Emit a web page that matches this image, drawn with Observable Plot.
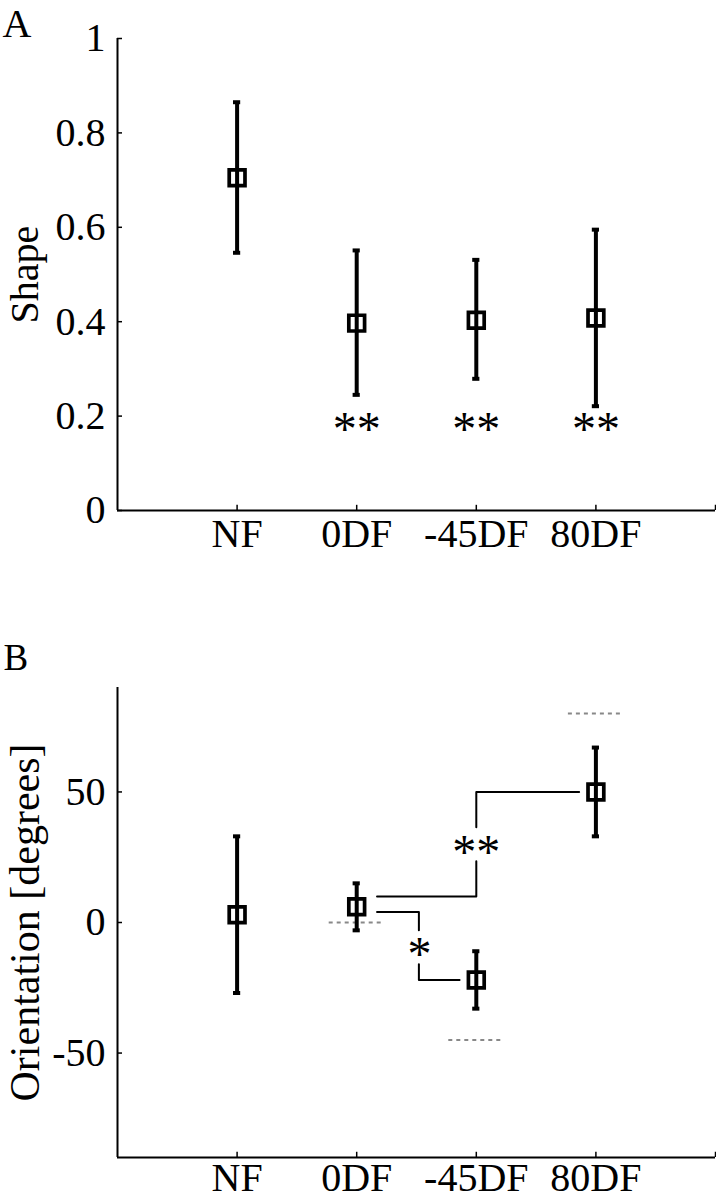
<!DOCTYPE html>
<html>
<head>
<meta charset="utf-8">
<script src="https://cdn.jsdelivr.net/npm/d3@7"></script>
<script src="https://cdn.jsdelivr.net/npm/@observablehq/plot@0.6"></script>
<style>
  html, body { margin: 0; padding: 0; background: #fff; }
  #chart svg { display: block; }
</style>
</head>
<body>
<div id="chart"></div>
<script>
// ---- data ----
const cats = ["NF", "0DF", "-45DF", "80DF"];
const catPos = [1, 2, 3, 4];
const xTickMarks = [1, 2, 3, 4, 5];

const shapeMean = [0.705, 0.397, 0.403, 0.408];
const shapeLo   = [0.546, 0.245, 0.279, 0.221];
const shapeHi   = [0.865, 0.551, 0.531, 0.595];
const shapeSig  = ["", "**", "**", "**"];
const shapeSigY = 0.186;
const shapeTicks = [0, 0.2, 0.4, 0.6, 0.8, 1];

const orientMean = [3, 6, -22, 50];
const orientLo   = [-27, -3, -33, 33];
const orientHi   = [33, 15, -11, 67];
const orientTicks = [-50, 0, 50];

const targetPos = [2, 3, 4];
const targetVal = [0, -45, 80];

// significance brackets (x in category units, y in degrees)
const bracketSeg = ["a", "a", "a", "b", "b", "b", "c", "c", "c", "d", "d", "d"];
const bracketX   = [2.17, 3, 3,   3, 3, 3.86,   2.17, 2.52, 2.52,   2.52, 2.52, 2.86];
const bracketY   = [10, 10, 23.5, 36.5, 50, 50,  4, 4, -3,           -16, -22, -22];
const sigLabels  = ["**", "*"];
const sigX       = [3, 2.525];
const sigY       = [29.6, -9.6];

// ---- tables ----
const shapeData = catPos.map((x, i) => ({x, mean: shapeMean[i], lo: shapeLo[i], hi: shapeHi[i], sig: shapeSig[i]}));
const orientData = catPos.map((x, i) => ({x, mean: orientMean[i], lo: orientLo[i], hi: orientHi[i]}));
const targets = targetPos.map((x, i) => ({x, v: targetVal[i]}));
const brackets = bracketX.map((x, i) => ({x, y: bracketY[i], seg: bracketSeg[i]}));
const sigs = sigLabels.map((t, i) => ({t, x: sigX[i], y: sigY[i]}));

const FONT = "'Liberation Serif', 'Times New Roman', Times, serif";
const capW = 0.03;
const W = 716;

function errorMarks(data) {
  return [
    Plot.ruleX(data, {x: "x", y1: "lo", y2: "hi", stroke: "black", strokeWidth: 4}),
    Plot.ruleY(data, {x1: d => d.x - capW, x2: d => d.x + capW, y: "hi", stroke: "black", strokeWidth: 4}),
    Plot.ruleY(data, {x1: d => d.x - capW, x2: d => d.x + capW, y: "lo", stroke: "black", strokeWidth: 4}),
    Plot.dot(data, {x: "x", y: "mean", symbol: "square", r: 8.9, stroke: "black", strokeWidth: 3.7, fill: "none"})
  ];
}

function axisMarks(yTicks, yMin, yMax, yTickLen, xPad) {
  return [
    Plot.ruleX([0], {y1: yMin, y2: yMax, stroke: "black", strokeWidth: 2}),
    Plot.ruleY([yMin], {x1: 0, x2: 5, stroke: "black", strokeWidth: 2}),
    Plot.ruleY(yTicks, {y: d => d, x1: 0, x2: 0.042, stroke: "black", strokeWidth: 1.5}),
    Plot.ruleX(xTickMarks, {x: d => d, y1: yMin, y2: yMin + yTickLen, stroke: "black", strokeWidth: 1.5}),
    Plot.axisY({ticks: yTicks, tickSize: 0, tickPadding: 12, tickFormat: d => String(d), fontSize: 40, label: null}),
    Plot.axisX({ticks: catPos, tickSize: 0, tickPadding: xPad, tickFormat: d => cats[d - 1], fontSize: 40, label: null})
  ];
}

const plotA = Plot.plot({
  width: W, height: 600,
  marginLeft: 117, marginRight: 1, marginTop: 38, marginBottom: 90,
  style: {fontFamily: FONT, fontSize: "40px", color: "black", background: "white"},
  x: {domain: [0, 5]},
  y: {domain: [0, 1]},
  marks: [
    ...axisMarks(shapeTicks, 0, 1, 0.011, 8),
    ...errorMarks(shapeData),
    Plot.text(shapeData, {x: "x", y: () => shapeSigY, text: "sig", fontSize: 48, lineAnchor: "middle", dy: 7}),
    Plot.text(["Shape"], {frameAnchor: "left", rotate: -90, dx: -80, textAnchor: "middle", lineAnchor: "bottom", fontSize: 40}),
    Plot.text(["A"], {frameAnchor: "top-left", dx: -115, dy: -2, textAnchor: "start", lineAnchor: "bottom", fontSize: 40})
  ]
});

const plotB = Plot.plot({
  width: W, height: 600,
  marginLeft: 117, marginRight: 1, marginTop: 87, marginBottom: 43,
  style: {fontFamily: FONT, fontSize: "40px", color: "black", background: "white"},
  x: {domain: [0, 5]},
  y: {domain: [-90, 90]},
  marks: [
    ...axisMarks(orientTicks, -90, 90, 2, 5),
    Plot.ruleY(targets, {x1: d => d.x - 0.23, x2: d => d.x + 0.23, y: "v", stroke: "#888", strokeWidth: 2, strokeDasharray: "4,4"}),
    Plot.line(brackets, {x: "x", y: "y", z: "seg", stroke: "black", strokeWidth: 2}),
    ...errorMarks(orientData),
    Plot.text(sigs, {x: "x", y: "y", text: "t", fontSize: 48, lineAnchor: "middle", dy: 7}),
    Plot.text(["Orientation [degrees]"], {frameAnchor: "left", rotate: -90, dx: -79, textAnchor: "middle", lineAnchor: "bottom", fontSize: 42}),
    Plot.text(["B"], {frameAnchor: "top-left", dx: -114, dy: -18, textAnchor: "start", lineAnchor: "bottom", fontSize: 37})
  ]
});

document.getElementById("chart").append(plotA, plotB);
</script>
</body>
</html>
